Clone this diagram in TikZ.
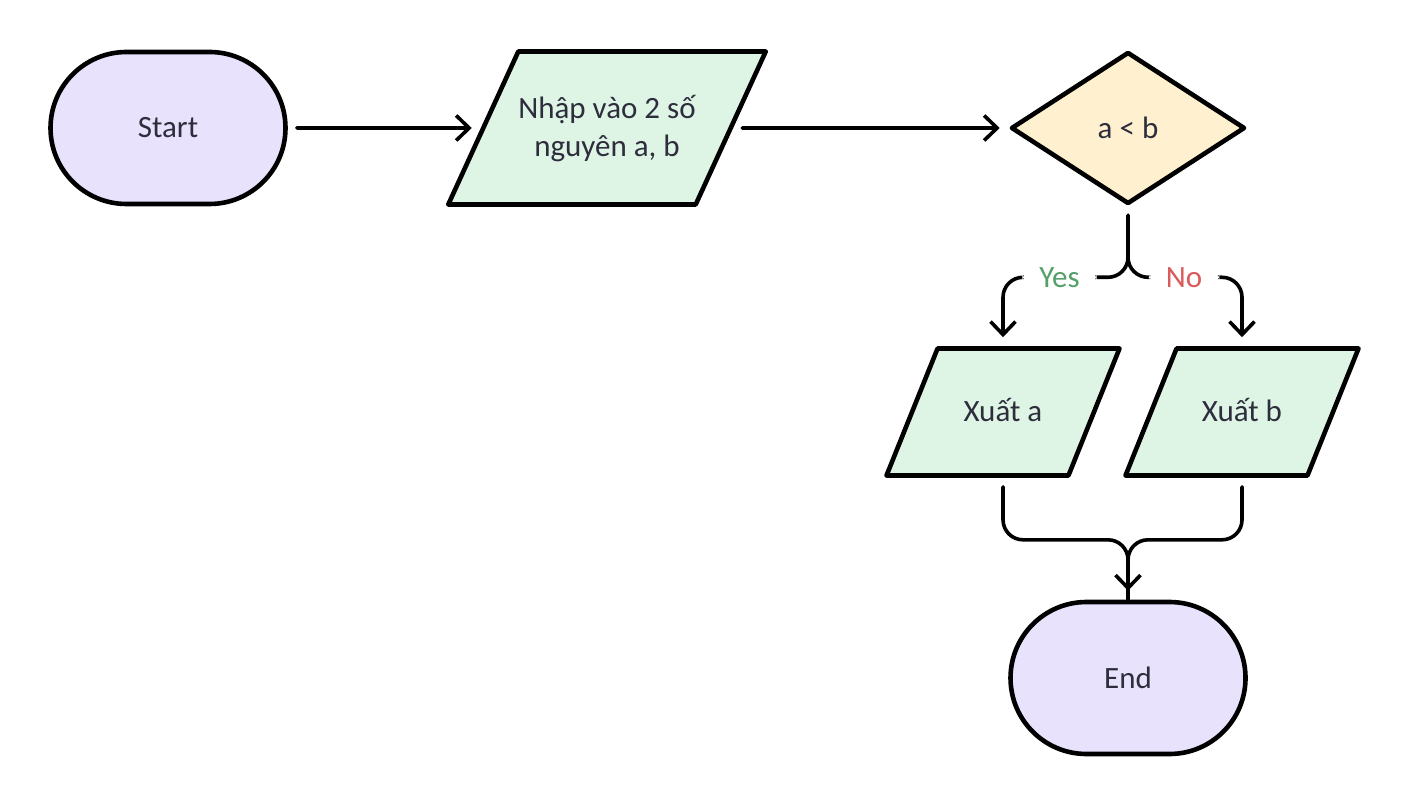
\documentclass[tikz,border=0pt]{standalone}
\usepackage{fontspec}
\setmainfont{Carlito}
\usetikzlibrary{shapes.geometric,arrows.meta}
\definecolor{lavande}{RGB}{232,226,253}
\definecolor{vertpale}{RGB}{222,245,230}
\definecolor{jaunepale}{RGB}{255,241,207}
\definecolor{texte}{RGB}{45,45,60}
\definecolor{oui}{RGB}{84,160,104}
\definecolor{non}{RGB}{217,91,91}

\begin{document}
\begin{tikzpicture}[x=0.5pt,y=-0.5pt,font=\fontsize{15.5}{19}\selectfont,
  term/.style={rectangle, rounded corners=38pt, draw, line width=2.3pt, fill=lavande,
    text=texte, minimum width=117.5pt, minimum height=76pt},
  io/.style={trapezium, trapezium stretches body, draw, line width=2.3pt, fill=vertpale,
    text=texte, inner sep=0pt, line join=round},
  test/.style={diamond, draw, line width=2.3pt, fill=jaunepale, text=texte, inner sep=0pt,
    minimum width=117pt, minimum height=76pt, line join=round},
  fleche/.style={line width=1.8pt, line cap=round, line join=round,
    -{Straight Barb[length=6.5pt,width=12.5pt]}, shorten <=4.5pt, shorten >=4.5pt},
  lien/.style={line width=1.8pt, line cap=round, line join=round, shorten <=4.5pt},
  etiq/.style={fill=white, inner xsep=8.5pt, inner ysep=2pt}]
\useasboundingbox (0,0) rectangle (1412,806);

\node [term] (debut) at (168,128) {Start};
\node [io, trapezium left angle=65.4, trapezium right angle=114.6, minimum width=151pt,
  text height=52.75pt, text depth=23.75pt] (saisie) at (607,128)
  {\begin{tabular}[b]{@{}c@{}}Nhập vào 2 số\\nguyên a, b\end{tabular}};
\node [test] (cmp) at (1128,128) {a < b};
\node [io, trapezium left angle=68.1, trapezium right angle=111.9, minimum width=116.5pt,
  text height=36.75pt, text depth=26.75pt] (sortiea) at (1003,412) {Xuất a};
\node [io, trapezium left angle=68.1, trapezium right angle=111.9, minimum width=116.5pt,
  text height=36.75pt, text depth=26.75pt] (sortieb) at (1242,412) {Xuất b};
\node [term] (fin) at (1128,678) {End};

\draw [fleche] (debut) -- (saisie);
\draw [fleche] (saisie) -- (cmp);
\draw [fleche, rounded corners=10pt] (cmp.south) -- ++(0,71) -| (sortiea.north)
  node [etiq, text=oui, pos=0.274] {Yes};
\draw [fleche, rounded corners=10pt] (cmp.south) -- ++(0,71) -| (sortieb.north)
  node [etiq, text=non, pos=0.246] {No};
\draw [lien, rounded corners=10pt] (sortiea.south) -- ++(0,62) -| (fin.north);
\draw [fleche, rounded corners=10pt] (sortieb.south) -- ++(0,62) -| (fin.north);

\end{tikzpicture}
\end{document}
